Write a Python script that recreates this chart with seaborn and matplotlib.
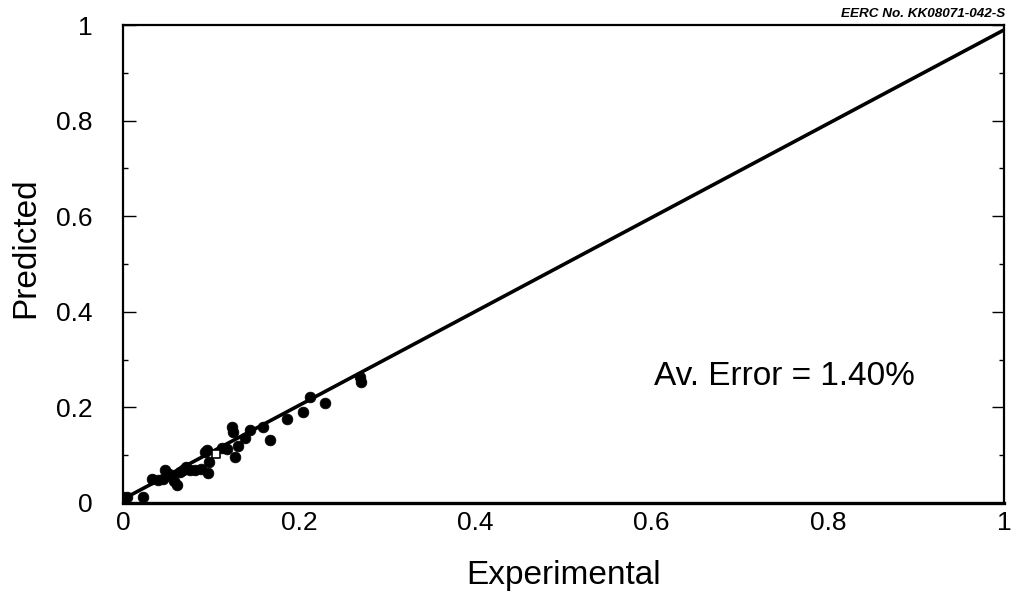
import matplotlib
matplotlib.use("Agg")
import matplotlib.pyplot as plt
import seaborn as sns
import pandas as pd
from matplotlib.ticker import MultipleLocator

experimental = [0.0, 0.005, 0.023, 0.033, 0.040, 0.045, 0.048, 0.052, 0.056, 0.058,
                0.061, 0.065, 0.068, 0.072, 0.076, 0.082, 0.088, 0.093, 0.095, 0.096,
                0.098, 0.112, 0.118, 0.124, 0.125, 0.127, 0.130, 0.138, 0.144, 0.159,
                0.167, 0.186, 0.204, 0.212, 0.229, 0.269, 0.270]
predicted = [0.013, 0.012, 0.013, 0.050, 0.048, 0.050, 0.069, 0.060, 0.055, 0.045,
             0.038, 0.065, 0.070, 0.075, 0.068, 0.069, 0.072, 0.107, 0.111, 0.063,
             0.085, 0.115, 0.112, 0.160, 0.149, 0.097, 0.120, 0.136, 0.153, 0.160,
             0.132, 0.176, 0.191, 0.222, 0.210, 0.264, 0.254]
square_x = [0.105]
square_y = [0.103]
fit_x = [0.0, 1.0]
fit_y = [0.008, 0.99]
ticks = [0, 0.2, 0.4, 0.6, 0.8, 1]
tick_labels = ["0", "0.2", "0.4", "0.6", "0.8", "1"]

sns.set_style("ticks")
plt.rcParams['font.family'] = ['Liberation Sans', 'DejaVu Sans']
plt.rcParams['text.color'] = 'black'
plt.rcParams['axes.labelcolor'] = 'black'

fig = plt.figure(figsize=(10.14, 6.11), dpi=100)
ax = fig.add_axes([0.1213, 0.1768, 0.8690, 0.7822])

df = pd.DataFrame({"Experimental": experimental, "Predicted": predicted})
sns.lineplot(x=fit_x, y=fit_y, ax=ax, color="black", linewidth=2.6)
sns.scatterplot(data=df, x="Experimental", y="Predicted", ax=ax, color="black",
                s=60, edgecolor="black", linewidth=0.5, zorder=3)
sns.scatterplot(x=square_x, y=square_y, ax=ax, marker="s", s=30, facecolor="white",
                edgecolor="black", linewidth=1.2, zorder=4)

ax.set_xlim(0, 1)
ax.set_ylim(0, 1)
ax.set_xticks(ticks)
ax.set_xticklabels(tick_labels)
ax.set_yticks(ticks)
ax.set_yticklabels(tick_labels)
ax.yaxis.set_minor_locator(MultipleLocator(0.1))
ax.tick_params(axis='x', labelsize=19, length=0, pad=6, colors="black")
ax.tick_params(axis='y', which='major', labelsize=19, direction='in', length=9,
               width=1, pad=22, right=True, colors="black")
ax.tick_params(axis='y', which='minor', direction='in', length=3.5, width=1,
               right=True, colors="black")
for s in ax.spines.values():
    s.set_linewidth(1.6)
    s.set_color("black")
ax.spines['bottom'].set_linewidth(2.4)

ax.set_xlabel("Experimental", fontsize=24, labelpad=18)
ax.set_ylabel("Predicted", fontsize=24)
ax.yaxis.set_label_coords(-0.093, 0.535)

ax.text(0.603, 0.264, "Av. Error = 1.40%", fontsize=24, va="center", ha="left")
fig.text(0.991, 0.977, "EERC No. KK08071-042-S", fontsize=9.7, style="italic",
         weight="bold", ha="right", va="center")

fig.savefig("out.png", dpi=100, facecolor="white")
